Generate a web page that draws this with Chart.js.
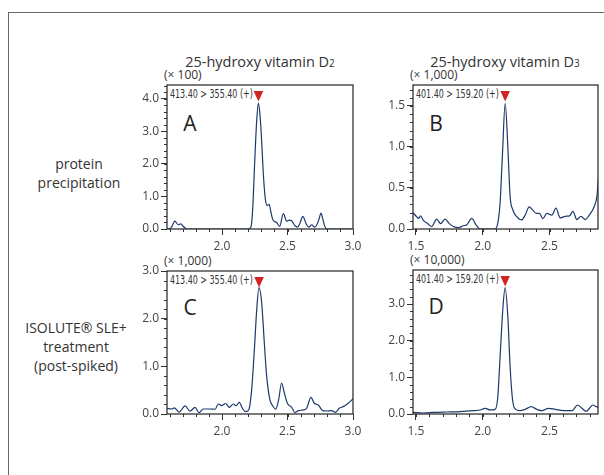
<!DOCTYPE html>
<html><head><meta charset="utf-8">
<script src="https://cdn.jsdelivr.net/npm/chart.js@4.4.1/dist/chart.umd.min.js"></script>
<style>
html,body{margin:0;padding:0;width:604px;height:475px;overflow:hidden;background:#fff;font-family:'Open Sans',sans-serif;color:#333}
.frame{position:absolute;left:8px;top:12px;width:700px;height:600px;border:1px solid #666;box-sizing:border-box}
.t{position:absolute;white-space:nowrap;line-height:1}
.c{transform:translate(-50%,-50%)}
.l{transform:translate(0,-50%)}
canvas{position:absolute}
</style></head><body>
<div class="frame"></div>
<div id="root"></div>
<script>
// ---------- data ----------
const columnTitles = ['25-hydroxy vitamin D', '25-hydroxy vitamin D'];
const columnSubscripts = ['2', '3'];
const rowLabels = [['protein', 'precipitation'], ['ISOLUTE® SLE+', 'treatment', '(post-spiked)']];
const panelLetters = ['A', 'B', 'C', 'D'];
const scaleFactors = ['(× 100)', '(× 1,000)', '(× 1,000)', '(× 10,000)'];
const transitions = ['413.40 > 355.40 (+)', '401.40 > 159.20 (+)', '413.40 > 355.40 (+)', '401.40 > 159.20 (+)'];
const peakTimes = [2.278, 2.168, 2.283, 2.168];

const xTicksD2 = [2.0, 2.5, 3.0];
const xTicksD3 = [1.5, 2.0, 2.5];
const yTicksA = [0, 1, 2, 3, 4];
const yTicksB = [0, 0.5, 1.0, 1.5];
const yTicksC = [0, 1, 2, 3];
const yTicksD = [0, 1, 2, 3];

const timeA = [1.58,1.61,1.64,1.667,1.684,1.70,1.73,1.80,1.9,2.0,2.1,2.2,2.212,2.224,2.236,2.25,2.265,2.278,2.29,2.30,2.315,2.33,2.345,2.36,2.372,2.385,2.397,2.417,2.44,2.468,2.494,2.514,2.534,2.557,2.578,2.597,2.616,2.646,2.664,2.685,2.705,2.72,2.74,2.756,2.77,2.785,2.80,2.85,2.9,3.0];
const signalA = [0.0,0.03,0.24,0.13,0.16,0.1,0.0,0,0,0,0,0,0.02,0.12,0.75,2.1,3.35,3.87,3.5,2.9,1.72,0.95,0.72,0.76,0.55,0.32,0.24,0.2,0.08,0.47,0.24,0.27,0.24,0.1,0.06,0.2,0.39,0.13,0.06,0.13,0.06,0.1,0.3,0.49,0.3,0.08,0.0,0,0,0];

const timeB = [1.478,1.505,1.52,1.535,1.555,1.585,1.618,1.655,1.685,1.718,1.75,1.78,1.818,1.855,1.88,1.918,1.95,1.98,2.03,2.09,2.11,2.13,2.148,2.168,2.188,2.205,2.225,2.255,2.29,2.318,2.348,2.375,2.40,2.425,2.45,2.48,2.518,2.548,2.58,2.618,2.65,2.675,2.705,2.735,2.768,2.80,2.835,2.855,2.87];
const signalB = [0.20,0.15,0.13,0.16,0.105,0.07,0.03,0.12,0.065,0.12,0.065,0.03,0.016,0.04,0.05,0.13,0.05,0.0,0.0,0.0,0.05,0.32,0.92,1.53,1.0,0.40,0.235,0.15,0.11,0.17,0.27,0.23,0.19,0.19,0.125,0.19,0.17,0.255,0.135,0.155,0.16,0.215,0.115,0.155,0.115,0.175,0.275,0.40,0.7];

const timeC = [1.58,1.616,1.636,1.672,1.718,1.756,1.794,1.824,1.857,1.908,1.947,1.972,1.997,2.028,2.056,2.087,2.107,2.132,2.155,2.18,2.204,2.226,2.247,2.265,2.282,2.303,2.323,2.341,2.366,2.387,2.41,2.432,2.455,2.476,2.499,2.532,2.557,2.583,2.62,2.646,2.679,2.705,2.735,2.768,2.798,2.837,2.867,2.895,2.926,2.964,3.0];
const signalC = [0.12,0.105,0.13,0.04,0.17,0.06,0.14,0.03,0.105,0.105,0.1,0.21,0.175,0.22,0.14,0.21,0.175,0.245,0.12,0.05,0.085,0.5,1.35,2.19,2.65,2.33,1.49,0.79,0.295,0.17,0.1,0.295,0.65,0.44,0.225,0.14,0.03,0.07,0.085,0.12,0.35,0.225,0.19,0.07,0.063,0.07,0.035,0.12,0.155,0.225,0.32];

const timeD = [1.478,1.555,1.63,1.73,1.83,1.93,1.98,2.018,2.055,2.093,2.113,2.13,2.15,2.168,2.188,2.205,2.225,2.248,2.28,2.318,2.363,2.405,2.443,2.493,2.543,2.605,2.668,2.71,2.743,2.775,2.825,2.85,2.87];
const signalD = [0.045,0.027,0.045,0.055,0.064,0.09,0.11,0.155,0.11,0.127,0.47,1.56,2.84,3.45,2.65,1.29,0.34,0.127,0.09,0.127,0.2,0.127,0.09,0.155,0.127,0.09,0.09,0.245,0.155,0.073,0.245,0.2,0.18];

// ---------- layout ----------
const panels = [
  {L:167, T:85,  R:353, B:229, xMin:1.58,  xMax:3.0,   yMax:4.43,  yMinor:0.2, xT:xTicksD2, yT:yTicksA, t:timeA, s:signalA},
  {L:413, T:85,  R:598, B:229, xMin:1.478, xMax:2.863, yMax:1.755, yMinor:0.1, xT:xTicksD3, yT:yTicksB, t:timeB, s:signalB},
  {L:167, T:271, R:353, B:414, xMin:1.58,  xMax:3.0,   yMax:3.0,   yMinor:0.2, xT:xTicksD2, yT:yTicksC, t:timeC, s:signalC},
  {L:413, T:270, R:598, B:414, xMin:1.478, xMax:2.863, yMax:3.93,  yMinor:0.2, xT:xTicksD3, yT:yTicksD, t:timeD, s:signalD}
];
const root = document.getElementById('root');
function addText(txt, x, y, cls, style) {
  const d = document.createElement('div');
  d.className = 't ' + cls;
  d.style.left = x + 'px'; d.style.top = y + 'px';
  Object.assign(d.style, style || {});
  d.innerHTML = txt;
  root.appendChild(d);
  return d;
}
// column titles
[260, 505].forEach((cx, i) => {
  addText(columnTitles[i] + '<span style="font-size:10px">' + columnSubscripts[i] + '</span>', cx, 62, 'c', {fontSize:'14.5px', color:'#333'});
});
// row labels
const rowY = [[164, 183], [328, 347, 366]];
const rowX = [79, 76];
rowLabels.forEach((lines, r) => lines.forEach((ln, k) => addText(ln, rowX[r], rowY[r][k], 'c', {fontSize:'14px', color:'#333'})));

const PAD_L = 46, PAD_R = 12, PAD_T = 8, XH = 28;
const framePlugin = {
  id: 'frame',
  afterDraw(chart) {
    const {ctx, chartArea: a, scales: {x, y}} = chart;
    const p = chart.options.plugins.frame;
    ctx.save();
    ctx.strokeStyle = '#333';
    ctx.lineWidth = 1;
    ctx.beginPath();
    for (let v = Math.ceil(x.min / 0.1 - 1e-6) * 0.1; v <= x.max + 1e-9; v += 0.1) {
      const px = Math.round(x.getPixelForValue(v)) + 0.5;
      ctx.moveTo(px, a.bottom); ctx.lineTo(px, a.bottom + 3);
    }
    for (let v = 0; v <= y.max + 1e-9; v += p.yMinor) {
      const py = Math.round(y.getPixelForValue(v)) + 0.5;
      ctx.moveTo(a.left, py); ctx.lineTo(a.left - 3, py);
    }
    ctx.stroke();
    ctx.lineWidth = 1.3;
    ctx.strokeRect(a.left, a.top, a.right - a.left, a.bottom - a.top);
    // peak marker
    const mx = x.getPixelForValue(p.peak);
    ctx.fillStyle = '#d42323';
    ctx.beginPath();
    ctx.moveTo(mx - 4.8, a.top + 6);
    ctx.lineTo(mx + 4.8, a.top + 6);
    ctx.lineTo(mx, a.top + 16.5);
    ctx.closePath();
    ctx.fill();
    ctx.restore();
  }
};

panels.forEach((p, i) => {
  const cv = document.createElement('canvas');
  const w = (p.R - p.L) + PAD_L + PAD_R, h = (p.B - p.T) + PAD_T + XH;
  cv.width = w; cv.height = h;
  cv.style.left = (p.L - PAD_L) + 'px'; cv.style.top = (p.T - PAD_T) + 'px';
  cv.style.width = w + 'px'; cv.style.height = h + 'px';
  document.body.appendChild(cv);
  const tickFont = {family: "'Open Sans', sans-serif", size: 12};
  new Chart(cv, {
    type: 'line',
    data: {datasets: [{
      data: p.t.map((t, k) => ({x: t, y: p.s[k]})),
      borderColor: '#1d3a6c', borderWidth: 1.2, pointRadius: 0,
      cubicInterpolationMode: 'monotone', fill: false
    }]},
    options: {
      responsive: false, animation: false, devicePixelRatio: 1, events: [],
      layout: {padding: {left: 0, right: PAD_R, top: PAD_T, bottom: 0}},
      plugins: {legend: {display: false}, tooltip: {enabled: false}, frame: {yMinor: p.yMinor, peak: peakTimes[i]}},
      scales: {
        x: {
          type: 'linear', min: p.xMin, max: p.xMax, offset: false,
          afterBuildTicks: s => { s.ticks = p.xT.map(v => ({value: v})); },
          afterFit: s => { s.height = XH; s.paddingLeft = 0; s.paddingRight = 0; },
          ticks: {callback: v => Number(v).toFixed(1), font: tickFont, color: '#444', padding: 4, maxRotation: 0, autoSkip: false},
          grid: {drawOnChartArea: false, drawTicks: true, tickLength: 6, color: '#333', lineWidth: 1},
          border: {display: false}
        },
        y: {
          type: 'linear', min: 0, max: p.yMax,
          afterBuildTicks: s => { s.ticks = p.yT.map(v => ({value: v})); },
          afterFit: s => { s.width = PAD_L; s.paddingTop = 0; s.paddingBottom = 0; },
          ticks: {callback: v => Number(v).toFixed(1), font: tickFont, color: '#444', padding: 2, autoSkip: false},
          grid: {drawOnChartArea: false, drawTicks: true, tickLength: 6, color: '#333', lineWidth: 1},
          border: {display: false}
        }
      }
    },
    plugins: [framePlugin]
  });
  // panel texts
  addText(scaleFactors[i], p.L - 3, p.T - 10, 'l', {fontSize:'12px', color:'#333'});
  const tr = addText(transitions[i], p.L + 3, p.T + 10, 'l', {fontSize:'11.5px', color:'#333', fontFamily:"'Liberation Sans Narrow','DejaVu Sans Condensed',sans-serif", transformOrigin:'0 50%'});
  const k = 83 / tr.offsetWidth;
  tr.style.transform = 'translate(0,-50%) scaleX(' + k.toFixed(3) + ')';
  addText(panelLetters[i], p.L + 23, p.T + (i < 2 ? 38 : 36), 'c', {fontSize:'21px', color:'#222'});
});
</script>
</body></html>
